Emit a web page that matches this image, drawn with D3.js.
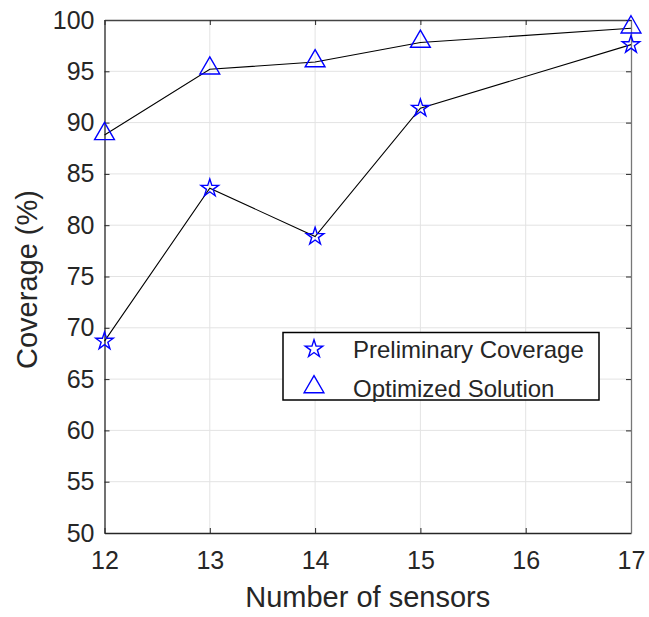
<!DOCTYPE html>
<html>
<head>
<meta charset="utf-8">
<script src="https://cdn.jsdelivr.net/npm/d3@7/dist/d3.min.js"></script>
<style>
  html, body { margin: 0; padding: 0; background: #fff; }
  svg text { font-family: Arial, "Liberation Sans", Helvetica, sans-serif; fill: #262626; }
</style>
</head>
<body>
<svg id="chart" width="649" height="617"></svg>
<script>
// Sensor counts and coverage results
const sensors = [12, 13, 14, 15, 17];
const preliminary = [68.7, 83.6, 78.9, 91.4, 97.6];
const optimized = [88.8, 95.2, 95.9, 97.8, 99.2];
const xTicks = [12, 13, 14, 15, 16, 17];
const yTicks = [50, 55, 60, 65, 70, 75, 80, 85, 90, 95, 100];
const seriesNames = ["Preliminary Coverage", "Optimized Solution"];

const svg = d3.select("#chart");
const plotL = 104.5, plotR = 631, plotT = 20, plotB = 533;

const x = d3.scaleLinear().domain([12, 17]).range([plotL, plotR]);
const y = d3.scaleLinear().domain([50, 100]).range([plotB, plotT]);

// grid
const grid = svg.append("g");
grid.selectAll(".gx").data(xTicks.slice(1, -1)).enter().append("line")
  .attr("x1", d => x(d)).attr("x2", d => x(d)).attr("y1", plotT).attr("y2", plotB)
  .attr("stroke", "#e3e3e3").attr("stroke-width", 1);
grid.selectAll(".gy").data(yTicks.slice(1, -1)).enter().append("line")
  .attr("y1", d => y(d)).attr("y2", d => y(d)).attr("x1", plotL).attr("x2", plotR)
  .attr("stroke", "#e3e3e3").attr("stroke-width", 1);

// axes (ticks inward, on all four sides)
const tickLen = 5;
const axisColor = "#262626";
const axB = svg.append("g").attr("transform", `translate(0,${plotB})`)
  .call(d3.axisBottom(x).tickValues(xTicks).tickFormat(d3.format("d")).tickSizeInner(-tickLen).tickSizeOuter(0).tickPadding(18));
const axL = svg.append("g").attr("transform", `translate(${plotL},0)`)
  .call(d3.axisLeft(y).tickValues(yTicks).tickFormat(d3.format("d")).tickSizeInner(-tickLen).tickSizeOuter(0).tickPadding(10));
const axT = svg.append("g").attr("transform", `translate(0,${plotT})`)
  .call(d3.axisTop(x).tickValues(xTicks).tickFormat("").tickSizeInner(-tickLen).tickSizeOuter(0));
const axR = svg.append("g").attr("transform", `translate(${plotR},0)`)
  .call(d3.axisRight(y).tickValues(yTicks).tickFormat("").tickSizeInner(-tickLen).tickSizeOuter(0));
[axB, axL, axT, axR].forEach(a => {
  a.selectAll("path").attr("stroke", axisColor).attr("stroke-width", 1.3);
  a.selectAll("line").attr("stroke", axisColor).attr("stroke-width", 1);
  a.selectAll("text").style("font-size", "25px").attr("fill", axisColor);
});
axT.selectAll("path").attr("stroke", "#444");
axR.selectAll("path").attr("stroke", "#777");

// axis titles
svg.append("text").attr("x", (plotL + plotR) / 2).attr("y", 607)
  .attr("text-anchor", "middle").style("font-size", "29px").text("Number of sensors");
svg.append("text").attr("transform", `translate(37,${(plotT + plotB) / 2 + 3}) rotate(-90)`)
  .attr("text-anchor", "middle").style("font-size", "29px").text("Coverage (%)");

// series lines
const line = d3.line().x(d => x(d[0])).y(d => y(d[1]));
const prelimPts = sensors.map((s, i) => [s, preliminary[i]]);
const optPts = sensors.map((s, i) => [s, optimized[i]]);
[prelimPts, optPts].forEach(pts => {
  svg.append("path").datum(pts).attr("d", line)
    .attr("fill", "none").attr("stroke", "#000").attr("stroke-width", 1.1);
});

// markers
const star = d3.symbol().type(d3.symbolStar).size(95);
const tri = d3.symbol().type(d3.symbolTriangle).size(170);
const blue = "#0000ff";
svg.selectAll(".star").data(prelimPts).enter().append("path")
  .attr("d", star).attr("transform", d => `translate(${x(d[0])},${y(d[1])})`)
  .attr("fill", "none").attr("stroke", blue).attr("stroke-width", 1.4);
svg.selectAll(".tri").data(optPts).enter().append("path")
  .attr("d", tri).attr("transform", d => `translate(${x(d[0])},${y(d[1]) - 1})`)
  .attr("fill", "none").attr("stroke", blue).attr("stroke-width", 1.4);

// legend
const lg = svg.append("g");
lg.append("rect").attr("x", 283).attr("y", 332.5).attr("width", 316).attr("height", 67.5)
  .attr("fill", "#fff").attr("stroke", "#000").attr("stroke-width", 1.5);
const legendRows = [
  { name: seriesNames[0], sym: star, my: 349, ty: 358 },
  { name: seriesNames[1], sym: tri, my: 387, ty: 397 }
];
legendRows.forEach(r => {
  lg.append("path").attr("d", r.sym).attr("transform", `translate(314,${r.my})`)
    .attr("fill", "none").attr("stroke", blue).attr("stroke-width", 1.4);
  lg.append("text").attr("x", 353).attr("y", r.ty)
    .style("font-size", "24px").attr("fill", "#333").text(r.name);
});
</script>
</body>
</html>
